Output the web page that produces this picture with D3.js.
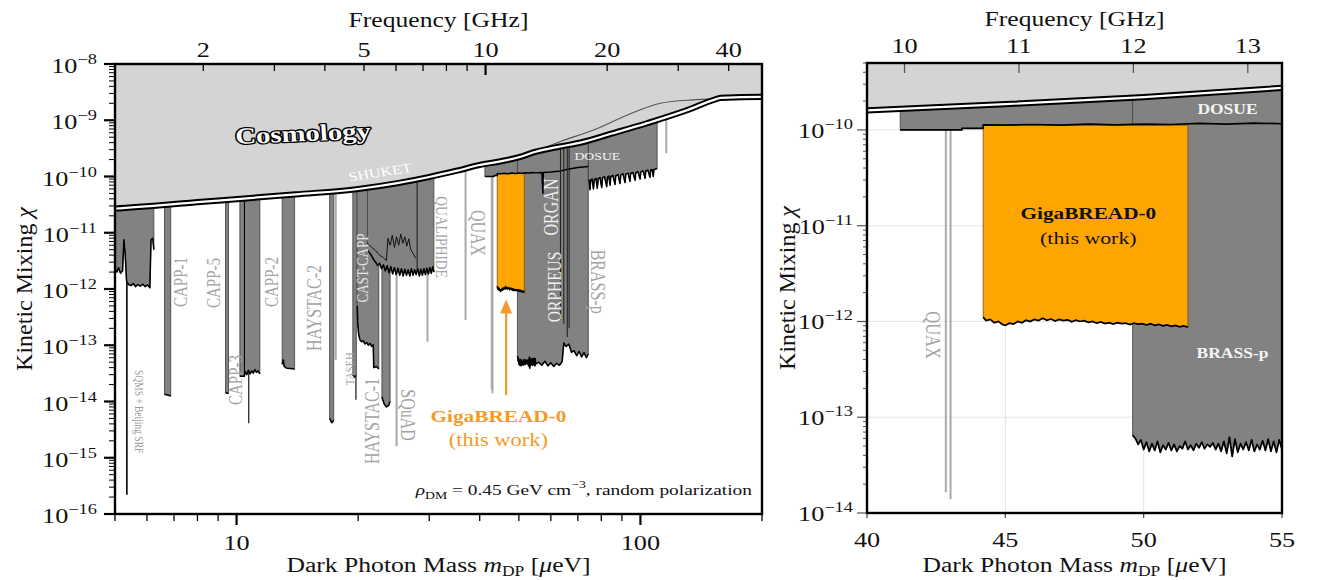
<!DOCTYPE html>
<html>
<head>
<meta charset="utf-8">
<script src="https://cdnjs.cloudflare.com/ajax/libs/d3/7.8.5/d3.min.js"></script>
<style>
  body { margin: 0; background: #fff; }
  svg { display: block; }
  text { font-family: "Liberation Serif", "Times New Roman", serif; }
</style>
</head>
<body>
<svg id="chart" width="1339" height="580"></svg>
<script>
// ---------------- data: dark photon kinetic-mixing limits ----------------
// masses in micro-eV, chi = kinetic mixing

// cosmological bound (lower edge of the excluded band)
const cosmoMass = [3, 5, 8, 14, 20, 25, 30, 35, 40, 45, 50, 55, 63, 71, 85, 104, 130, 152, 158, 200, 250];
const cosmoChi  = [2.4e-11, 2.7e-11, 3.5e-11, 4.8e-11, 6.0e-11, 7.6e-11, 9.8e-11, 1.26e-10, 1.6e-10, 1.86e-10,
                   2.2e-10, 2.75e-10, 3.4e-10, 4.0e-10, 5.8e-10, 8.9e-10, 1.5e-9, 2.3e-9, 2.5e-9, 2.6e-9, 2.6e-9];
// second cosmological curve inside the shaded band
const cosmoUpperMass = [53.5, 63.4, 76.5, 92.9, 112, 135, 151.5];
const cosmoUpperChi  = [2.6e-10, 4.2e-10, 6.7e-10, 1.24e-9, 2.0e-9, 2.3e-9, 2.4e-9];

// haloscope / dish exclusions: lower boundaries
const r1Mass = [4.95, 5.06, 5.10, 5.16, 5.22, 5.26, 5.30, 5.34, 5.40, 5.48, 5.55, 5.62, 5.70, 5.78, 5.86, 5.94, 6.02, 6.10, 6.14, 6.20, 6.24];
const r1Chi  = [2.6e-12, 2.0e-12, 2.4e-12, 1.9e-12, 2.1e-12, 7.5e-12, 4.0e-12, 1.4e-12, 1.2e-12, 1.15e-12, 1.25e-12,
                1.1e-12, 1.2e-12, 1.12e-12, 1.22e-12, 1.1e-12, 1.18e-12, 1.05e-12, 7.5e-12, 8.0e-12, 5.0e-12];
const capp1Mass = [6.63, 6.75, 6.87];
const capp1Chi  = [1.35e-14, 1.3e-14, 1.25e-14];
const capp5Mass = [9.39, 9.47, 9.55];
const capp5Chi  = [1.45e-14, 1.4e-14, 1.4e-14];
const capp3Mass = [10.19, 10.45, 10.50, 10.60, 10.70, 10.80, 10.90, 11.00, 11.10, 11.20, 11.30, 11.42];
const capp3Chi  = [2.8e-14, 2.8e-14, 3.4e-14, 3.0e-14, 3.6e-14, 3.1e-14, 3.5e-14, 3.2e-14, 3.7e-14, 3.3e-14, 3.5e-14, 3.1e-14];
const capp2Mass = [12.97, 13.05, 13.12, 13.3, 13.6, 13.92];
const capp2Chi  = [4.6e-14, 5.5e-14, 4.2e-14, 3.9e-14, 3.85e-14, 3.8e-14];
const haystac2Mass = [17.0, 17.2, 17.4];
const haystac2Chi  = [5.0e-15, 4.2e-15, 4.6e-15];
const tasehMass = [19.4, 19.6, 19.8];
const tasehChi  = [3.0e-14, 2.7e-14, 2.9e-14];
const castMass = [19.9, 19.95, 20.05, 20.2, 20.4, 20.6, 20.8, 21.0, 21.2, 21.4, 21.6, 21.8, 21.86, 22.2, 22.5];
const castChi  = [5.0e-13, 2.5e-13, 1.6e-13, 1.25e-13, 1.15e-13, 1.2e-13, 1.05e-13, 1.12e-13, 1.0e-13, 1.08e-13,
                  0.95e-13, 1.02e-13, 4.0e-14, 4.2e-14, 3.8e-14];
const haystac1Mass = [22.9, 23.2, 23.5, 23.8, 24.0];
const haystac1Chi  = [1.2e-14, 9.0e-15, 8.0e-15, 8.5e-15, 1.0e-14];
const bandMass = [21.10, 21.35, 21.60, 21.85, 22.10, 22.35, 22.60, 22.85, 23.10, 23.35, 23.60, 23.85, 24.10, 24.35,
                  24.60, 24.85, 25.10, 25.35, 25.60, 25.85, 26.10, 26.35, 26.60, 26.85, 27.10, 27.35, 27.60, 27.85,
                  28.10, 28.35, 28.60, 28.85, 29.10, 29.35, 29.60, 29.85, 30.10, 30.35, 30.60, 30.80];
const bandChi  = [5.0e-12, 4.4e-12, 3.9e-12, 3.3e-12, 3.0e-12, 2.6e-12, 2.9e-12, 2.3e-12, 2.7e-12, 2.1e-12, 2.6e-12,
                  1.95e-12, 2.5e-12, 1.85e-12, 2.4e-12, 1.8e-12, 2.35e-12, 1.75e-12, 2.3e-12, 1.7e-12, 2.25e-12,
                  1.75e-12, 2.2e-12, 1.7e-12, 2.3e-12, 1.75e-12, 2.2e-12, 1.8e-12, 2.3e-12, 1.7e-12, 2.25e-12,
                  1.75e-12, 2.3e-12, 1.8e-12, 2.35e-12, 1.85e-12, 2.4e-12, 1.9e-12, 2.5e-12, 2.0e-12];
const bandInnerMass = [21.1, 21.6, 22.1, 22.6, 23.1, 23.5, 23.7, 24.0, 24.3, 24.6, 24.9, 25.2, 25.5, 25.8, 26.1, 26.4, 26.7, 27.0, 27.4, 27.8];
const bandInnerChi  = [6.5e-12, 5.5e-12, 4.8e-12, 4.0e-12, 3.6e-12, 3.2e-12, 8.0e-12, 6.0e-12, 9.0e-12, 5.5e-12,
                       8.5e-12, 6.0e-12, 9.5e-12, 6.5e-12, 8.5e-12, 5.8e-12, 7.8e-12, 5.0e-12, 4.2e-12, 3.5e-12];
const dosueMass = [41.2, 43.43, 43.43, 44.2, 44.2, 45, 46, 47, 48, 49, 50, 51, 52, 53, 54, 55, 56, 57.0, 57.35, 57.5, 60, 63.4, 66, 70, 74.3];
const dosueChi  = [1.0e-10, 1.0e-10, 1.04e-10, 1.04e-10, 1.13e-10, 1.12e-10, 1.14e-10, 1.12e-10, 1.15e-10, 1.13e-10,
                   1.15e-10, 1.14e-10, 1.17e-10, 1.15e-10, 1.18e-10, 1.16e-10, 1.17e-10, 1.18e-10, 5.0e-11, 1.18e-10,
                   1.2e-10, 1.25e-10, 1.35e-10, 1.45e-10, 1.5e-10];
const brassMass = [49.6, 49.7, 49.8, 49.9, 50.0, 50.1, 50.2, 50.3, 50.4, 50.5, 50.6, 50.7, 50.8, 50.9, 51.0, 51.1, 51.2,
                   51.3, 51.4, 51.5, 51.6, 51.7, 51.8, 51.9, 52.0, 52.1, 52.2, 52.3, 52.4, 52.5, 52.6, 52.7, 52.8, 52.9,
                   53.0, 53.1, 53.2, 53.3, 53.4, 53.5, 53.6, 53.7, 53.8, 53.9, 54.0, 54.1, 54.2, 54.3, 54.4, 54.5, 54.6,
                   54.7, 54.8, 54.9, 55.0, 56, 57, 58, 59, 60, 61, 62, 63, 64, 64.6, 65.5, 66.5, 67.5, 68.5, 69.5, 70.5,
                   71.5, 72.5, 73.5, 74.3];
const brassChi  = [6.5e-14, 6.0e-14, 5.2e-14, 5.8e-14, 4.6e-14, 5.5e-14, 4.4e-14, 5.3e-14, 4.5e-14, 5.6e-14, 4.3e-14,
                   5.1e-14, 4.6e-14, 5.4e-14, 4.5e-14, 5.2e-14, 4.4e-14, 5.0e-14, 4.7e-14, 5.6e-14, 4.6e-14, 5.1e-14,
                   4.5e-14, 5.3e-14, 4.8e-14, 5.5e-14, 4.7e-14, 5.2e-14, 4.9e-14, 5.4e-14, 4.6e-14, 5.3e-14, 4.4e-14,
                   5.6e-14, 4.2e-14, 6.2e-14, 3.9e-14, 5.9e-14, 4.3e-14, 5.3e-14, 4.6e-14, 5.5e-14, 4.5e-14, 5.8e-14,
                   4.4e-14, 5.2e-14, 4.6e-14, 5.7e-14, 4.5e-14, 5.9e-14, 4.4e-14, 5.6e-14, 4.3e-14, 5.8e-14, 4.6e-14,
                   5.0e-14, 4.4e-14, 5.2e-14, 4.3e-14, 4.9e-14, 4.2e-14, 4.8e-14, 4.4e-14, 5.1e-14, 1.1e-13, 9.5e-14,
                   1.05e-13, 7.5e-14, 8.0e-14, 6.5e-14, 7.8e-14, 6.2e-14, 7.4e-14, 6.0e-14, 7.0e-14];
const dosueRRMass = [74.3, 74.7, 75.0, 75.3, 75.9, 76.5, 76.9, 77.6, 78.2, 78.6, 79.4, 80.2, 80.6, 81.5, 82.5, 82.9,
                     83.5, 84.1, 84.5, 85.5, 86.5, 86.9, 88.0, 89.0, 89.4, 90.5, 91.6, 92.0, 93.2, 94.2, 94.6, 95.8,
                     97.0, 97.4, 98.6, 99.8, 100.2, 101.5, 102.7, 103.1, 104.3, 105.6, 106.0, 106.9, 107.6, 108.0, 109, 110];
const dosueRRChi  = [0.88e-10, 0.84e-10, 0.58e-10, 0.86e-10, 0.90e-10, 0.60e-10, 0.88e-10, 0.93e-10, 0.62e-10, 0.91e-10,
                     0.96e-10, 0.64e-10, 0.95e-10, 0.99e-10, 0.66e-10, 0.98e-10, 1.02e-10, 0.70e-10, 1.00e-10, 1.05e-10,
                     0.72e-10, 1.03e-10, 1.08e-10, 0.75e-10, 1.06e-10, 1.12e-10, 0.78e-10, 1.10e-10, 1.15e-10, 0.82e-10,
                     1.14e-10, 1.18e-10, 0.86e-10, 1.17e-10, 1.22e-10, 0.90e-10, 1.21e-10, 1.26e-10, 0.93e-10, 1.25e-10,
                     1.30e-10, 0.97e-10, 1.29e-10, 1.33e-10, 1.00e-10, 1.32e-10, 1.36e-10, 1.38e-10];

// GigaBREAD-0 result
const gigaTop = 1.12e-10;
const gigaMass = [44.20, 44.30, 44.45, 44.60, 44.75, 44.90, 45.00, 45.15, 45.30, 45.45, 45.60, 45.75, 45.90, 46.05, 46.20,
                  46.35, 46.50, 46.65, 46.80, 46.95, 47.10, 47.25, 47.40, 47.55, 47.70, 47.85, 48.00, 48.15, 48.30, 48.45,
                  48.60, 48.75, 48.90, 49.05, 49.20, 49.35, 49.50, 49.65, 49.80, 49.95, 50.10, 50.25, 50.40, 50.55, 50.70,
                  50.85, 51.00, 51.15, 51.30, 51.45, 51.60];
const gigaChi  = [1.11e-12, 1.02e-12, 1.05e-12, 0.97e-12, 1.00e-12, 0.93e-12, 0.91e-12, 0.96e-12, 0.94e-12, 1.00e-12,
                  0.97e-12, 1.03e-12, 1.00e-12, 1.05e-12, 1.02e-12, 1.08e-12, 1.03e-12, 1.06e-12, 1.01e-12, 1.05e-12,
                  1.02e-12, 1.04e-12, 0.99e-12, 1.03e-12, 1.00e-12, 1.02e-12, 0.98e-12, 1.00e-12, 0.96e-12, 0.99e-12,
                  0.95e-12, 0.97e-12, 0.94e-12, 0.97e-12, 0.95e-12, 0.96e-12, 0.93e-12, 0.96e-12, 0.94e-12, 0.95e-12,
                  0.92e-12, 0.95e-12, 0.91e-12, 0.93e-12, 0.90e-12, 0.92e-12, 0.89e-12, 0.91e-12, 0.88e-12, 0.90e-12, 0.87e-12];

// narrow single-line exclusions (light) and thin dark features
const lightMass   = [17.6, 24.9, 29.7, 36.9, 42.85, 43.02, 115.9];
const lightBottom = [5.5e-14, 1.6e-15, 1.15e-13, 2.8e-13, 1.65e-14, 1.4e-14, 2.6e-10];
const innerMass   = [5.35, 10.46, 10.72, 19.75, 28.0, 63.4, 64.6, 65.9, 66.6];
const innerTop    = [1.3e-12, 1e-8, 3.3e-14, 2.8e-14, 1e-8, 1e-8, 1e-8, 1e-8, 1e-8];
const innerBottom = [2.2e-16, 2.8e-14, 4.1e-15, 1.07e-14, 2.2e-12, 2.8e-13, 2.4e-13, 1.4e-13, 2.0e-13];

// arrow pointing at the new result
const arrowMass = 46.5, arrowFrom = 1.3e-14, arrowTo = 6.5e-13;

// axis ticks
const massMajorL = [10, 100];
const massMinorL = [5, 6, 7, 8, 9, 20, 30, 40, 50, 60, 70, 80, 90, 200];
const freqTicksL = [2, 3, 4, 5, 6, 7, 8, 9, 10, 20, 30, 40];
const freqLabelsL = [2, 5, 10, 20, 40];
const massTicksR = [40, 45, 50, 55];
const freqTicksR = [10, 11, 12, 13];

// ---------------- drawing ----------------
const GHZ = 4.13567;            // micro-eV per GHz
const STRETCH = 1.25;           // horizontal glyph stretch of the typeset labels
const GREY = "#828282", LIGHT = "#a9a9a9", COSMO = "#d4d4d4", ORANGE = "#ffa500", ORANGE_TXT = "#f39a2c";

const svg = d3.select("#chart");
svg.append("rect").attr("width", 1339).attr("height", 580).attr("fill", "#fff");

const xL = d3.scaleLog().domain([5, 200]).range([115, 762]);
const yL = d3.scaleLog().domain([1e-16, 1e-8]).range([514, 64]);
const xR = d3.scaleLinear().domain([40, 55]).range([867, 1282]);
const yR = d3.scaleLog().domain([1e-14, 5e-10]).range([513, 63]);

const defs = svg.append("defs");
defs.append("clipPath").attr("id", "clipL").append("rect")
  .attr("x", 115).attr("y", 64).attr("width", 647).attr("height", 450);
defs.append("clipPath").attr("id", "clipR").append("rect")
  .attr("x", 867).attr("y", 63).attr("width", 415).attr("height", 450);

const zip = (ms, cs) => ms.map((m, i) => ({ m, c: cs[i] }));

const regions = [
  zip(r1Mass, r1Chi), zip(capp1Mass, capp1Chi), zip(capp5Mass, capp5Chi), zip(capp3Mass, capp3Chi),
  zip(capp2Mass, capp2Chi), zip(haystac2Mass, haystac2Chi), zip(tasehMass, tasehChi), zip(castMass, castChi),
  zip(haystac1Mass, haystac1Chi), zip(bandMass, bandChi), zip(dosueMass, dosueChi), zip(brassMass, brassChi),
  zip(dosueRRMass, dosueRRChi)
];

// text helper: positioned group, stretched horizontally, optional rotation
function label(parent, px, py, opts) {
  const sx = opts.noStretch ? 1 : STRETCH;
  const g = parent.append("g")
    .attr("transform", `translate(${px},${py}) scale(${sx},1) rotate(${opts.rot || 0})`);
  const t = g.append("text")
    .attr("text-anchor", opts.anchor || "middle")
    .attr("dy", opts.dy || 0)
    .style("font-size", opts.size + "px")
    .style("font-weight", opts.weight || "normal")
    .attr("fill", opts.fill || "#111");
  if (opts.stroke) {
    t.attr("stroke", opts.stroke).attr("stroke-width", opts.strokeWidth)
     .attr("paint-order", "stroke").attr("stroke-linejoin", "round");
  }
  if (opts.text !== undefined) t.text(opts.text);
  return t;
}

function drawPanel(x, y, clipId, isLeft) {
  const g = svg.append("g");
  const plot = g.append("g").attr("clip-path", `url(#${clipId})`);
  const [yBot, yTop] = y.range();
  const [xLeft, xRight] = x.range();

  if (!isLeft) {
    // light grid at major ticks
    const grid = plot.append("g").attr("stroke", "#e4e4e4").attr("stroke-width", 1);
    [1e-13, 1e-12, 1e-11, 1e-10].forEach(v =>
      grid.append("line").attr("x1", xLeft).attr("x2", xRight).attr("y1", y(v)).attr("y2", y(v)));
    [45, 50].forEach(v =>
      grid.append("line").attr("x1", x(v)).attr("x2", x(v)).attr("y1", yTop).attr("y2", yBot));
  }

  // single-line exclusions
  lightMass.forEach((m, i) => {
    plot.append("line").attr("x1", x(m)).attr("x2", x(m))
      .attr("y1", y(1e-8)).attr("y2", y(lightBottom[i]))
      .attr("stroke", LIGHT).attr("stroke-width", 2);
  });

  const regionLine = d3.line().x(d => x(d.m)).y(d => y(d.c));
  const regionPoly = pts => {
    const top = [{ m: pts[0].m, c: 1e-8 }];
    const end = [{ m: pts[pts.length - 1].m, c: 1e-8 }];
    return regionLine(top.concat(pts, end)) + "Z";
  };

  // grey exclusion fills
  regions.forEach(pts => {
    plot.append("path").attr("d", regionPoly(pts))
      .attr("fill", GREY).attr("stroke", "#3c3c3c").attr("stroke-width", 0.8);
  });

  // GigaBREAD-0 region
  const gigaPts = zip(gigaMass, gigaChi);
  const gigaPoly = regionLine([{ m: gigaMass[0], c: gigaTop }].concat(gigaPts,
    [{ m: gigaMass[gigaMass.length - 1], c: gigaTop }])) + "Z";
  plot.append("path").attr("d", gigaPoly).attr("fill", ORANGE).attr("stroke", "#7a5200").attr("stroke-width", 0.8);
  plot.append("path").attr("d", regionLine(gigaPts)).attr("fill", "none")
    .attr("stroke", "#000").attr("stroke-width", isLeft ? 1.5 : 1.7);

  // black lower boundaries of the grey regions
  regions.forEach(pts => {
    plot.append("path").attr("d", regionLine(pts)).attr("fill", "none")
      .attr("stroke", "#000").attr("stroke-width", isLeft ? 1.5 : 1.7).attr("stroke-linejoin", "round");
  });
  if (isLeft) {
    plot.append("path").attr("d", regionLine(zip(bandInnerMass, bandInnerChi))).attr("fill", "none")
      .attr("stroke", "#111").attr("stroke-width", 1);
  }
  innerMass.forEach((m, i) => {
    plot.append("line").attr("x1", x(m)).attr("x2", x(m))
      .attr("y1", y(innerTop[i])).attr("y2", y(innerBottom[i]))
      .attr("stroke", i >= 4 ? "#222" : "#000").attr("stroke-width", i === 0 ? 1.6 : 1.1);
  });

  // cosmology band
  const cosmoPts = zip(cosmoMass, cosmoChi);
  const curve = isLeft ? d3.curveMonotoneX : d3.curveLinear;
  plot.append("path")
    .attr("d", d3.area().x(d => x(d.m)).y0(yTop - 20).y1(d => y(d.c)).curve(curve)(cosmoPts))
    .attr("fill", COSMO);
  if (isLeft) {
    plot.append("path")
      .attr("d", d3.line().x(d => x(d.m)).y(d => y(d.c)).curve(d3.curveMonotoneX)(zip(cosmoUpperMass, cosmoUpperChi)))
      .attr("fill", "none").attr("stroke", "#555").attr("stroke-width", 1.1);
  }
  const cosmoLine = d3.line().x(d => x(d.m)).y(d => y(d.c)).curve(curve)(cosmoPts);
  plot.append("path").attr("d", cosmoLine).attr("fill", "none").attr("stroke", "#000").attr("stroke-width", 6.2);
  plot.append("path").attr("d", cosmoLine).attr("fill", "none").attr("stroke", "#fff").attr("stroke-width", 2.2);

  return { g, plot };
}

// ---------- left panel ----------
const L = drawPanel(xL, yL, "clipL", true);

const leftLabels = [
  { t: "SQMS + Beijing SRF", m: 5.73, c: 6.6e-15, rot: 90, size: 9.5, fill: "#9a9a9a" },
  { t: "CAPP-1", m: 7.28, c: 1.33e-12, rot: -90, size: 15, fill: "#a3a3a3" },
  { t: "CAPP-5", m: 8.74, c: 1.28e-12, rot: -90, size: 15, fill: "#a3a3a3" },
  { t: "CAPP-3", m: 9.91, c: 2.41e-14, rot: -90, size: 15, fill: "#a3a3a3" },
  { t: "CAPP-2", m: 12.17, c: 1.33e-12, rot: -90, size: 15, fill: "#a3a3a3" },
  { t: "HAYSTAC-2", m: 15.55, c: 4.6e-13, rot: -90, size: 16, fill: "#a3a3a3" },
  { t: "TASEH", m: 18.98, c: 3.8e-14, rot: -90, size: 10.5, fill: "#a3a3a3" },
  { t: "CAST-CAPP", m: 20.45, c: 2.36e-12, rot: -90, size: 13, fill: "#e6e6e6" },
  { t: "HAYSTAC-1", m: 21.64, c: 4.5e-15, rot: -90, size: 16, fill: "#a3a3a3" },
  { t: "SQuAD", m: 26.58, c: 5.75e-15, rot: 90, size: 16, fill: "#a3a3a3" },
  { t: "QUALIPHIDE", m: 32.17, c: 8.4e-12, rot: 90, size: 13.5, fill: "#a3a3a3" },
  { t: "QUAX", m: 39.6, c: 9.9e-12, rot: 90, size: 16, fill: "#a3a3a3" },
  { t: "ORGAN", m: 60.2, c: 2.87e-11, rot: -90, size: 16, fill: "#eeeeee" },
  { t: "ORPHEUS", m: 61.1, c: 1.09e-12, rot: -90, size: 15.5, fill: "#eeeeee" },
  { t: "BRASS-p", m: 78.5, c: 1.35e-12, rot: 90, size: 16, fill: "#a3a3a3" },
  { t: "DOSUE", m: 78.2, c: 2.31e-10, rot: 0, size: 11, fill: "#f2f2f2" },
  { t: "SHUKET", m: 22.66, c: 1.2e-10, rot: -11, size: 13, fill: "#ffffff" }
];
leftLabels.forEach(d => label(L.plot, xL(d.m), yL(d.c),
  { text: d.t, rot: d.rot, size: d.size, fill: d.fill, dy: "0.35em" }));

label(L.plot, xL(14.6), yL(5.9e-10), { text: "Cosmology", rot: -3, size: 23, weight: "bold",
  fill: "#fff", stroke: "#000", strokeWidth: 2.6, dy: "0.35em" });

// arrow and caption for the new result
L.plot.append("line").attr("x1", xL(arrowMass)).attr("x2", xL(arrowMass))
  .attr("y1", yL(arrowFrom)).attr("y2", yL(arrowTo) + 12)
  .attr("stroke", ORANGE_TXT).attr("stroke-width", 2.2);
L.plot.append("path")
  .attr("d", `M${xL(arrowMass)},${yL(arrowTo)} l-6,14 l12,0 Z`)
  .attr("fill", ORANGE_TXT);
label(L.plot, xL(44.5), yL(5.5e-15), { text: "GigaBREAD-0", size: 17, weight: "bold", fill: ORANGE_TXT, dy: "0.35em" });
label(L.plot, xL(44.5), yL(5.5e-15) + 24, { text: "(this work)", size: 18, fill: ORANGE_TXT, dy: "0.35em" });

const note = label(L.plot, xL(188.8), yL(2.18e-16), { anchor: "end", size: 15.5, fill: "#111" });
note.append("tspan").style("font-style", "italic").text("ρ");
note.append("tspan").attr("dy", 4).style("font-size", "11px").text("DM");
note.append("tspan").attr("dy", -4).text(" = 0.45 GeV cm");
note.append("tspan").attr("dy", -7).style("font-size", "11px").text("−3");
note.append("tspan").attr("dy", 7).text(", random polarization");

// ---------- right panel ----------
const R = drawPanel(xR, yR, "clipR", false);
label(R.plot, xR(53.03), yR(1.65e-10), { text: "DOSUE", size: 14, weight: "bold", fill: "#f4f4f4", dy: "0.35em" });
label(R.plot, xR(53.21), yR(4.7e-13), { text: "BRASS-p", size: 14, weight: "bold", fill: "#f4f4f4", dy: "0.35em" });
label(R.plot, xR(42.39), yR(7.2e-13), { text: "QUAX", rot: 90, size: 16.5, fill: "#a3a3a3", dy: "0.35em" });
label(R.plot, xR(48.0), yR(1.36e-11), { text: "GigaBREAD-0", size: 17, weight: "bold", fill: "#111", dy: "0.35em" });
label(R.plot, xR(48.0), yR(1.36e-11) + 25, { text: "(this work)", size: 17.5, fill: "#111", dy: "0.35em" });

// ---------------- axes ----------------
function tick(g, x1, y1, x2, y2, w, col) {
  g.append("line").attr("x1", x1).attr("y1", y1).attr("x2", x2).attr("y2", y2)
    .attr("stroke", col || "#000").attr("stroke-width", w);
}
function powLabel(g, px, py, v, size) {
  const e = Math.round(Math.log10(v));
  const t = label(g, px, py, { anchor: "end", size: size, fill: "#111" });
  t.append("tspan").text("10");
  t.append("tspan").attr("dy", -9).style("font-size", (size * 0.7) + "px").text("−" + Math.abs(e));
}
function massTitle(g, px) {
  const xt = label(g, px, 572, { size: 20.5 });
  xt.append("tspan").text("Dark Photon Mass ");
  xt.append("tspan").style("font-style", "italic").text("m");
  xt.append("tspan").attr("dy", 4).style("font-size", "14px").text("DP");
  xt.append("tspan").attr("dy", -4).text(" [");
  xt.append("tspan").style("font-style", "italic").text("μ");
  xt.append("tspan").text("eV]");
}
function mixingTitle(g, px, py) {
  const t = label(g, px, py, { size: 24, rot: -90, noStretch: true });
  t.append("tspan").text("Kinetic Mixing ");
  t.append("tspan").style("font-style", "italic").text("χ");
}

// left axes
{
  const g = L.g;
  const [x0, x1] = xL.range(), [yb, yt] = yL.range();
  massMajorL.forEach(m => { tick(g, xL(m), yb, xL(m), yb + 11, 2.2);
    label(g, xL(m), 550, { text: String(m), size: 21 }); });
  massMinorL.forEach(m => tick(g, xL(m), yb, xL(m), yb + 7, 1.3));
  freqTicksL.forEach(f => tick(g, xL(f * GHZ), yt, xL(f * GHZ), yt + (f === 10 ? 11 : 7), f === 10 ? 2.2 : 1.3));
  freqLabelsL.forEach(f => label(g, xL(f * GHZ), 57, { text: String(f), size: 21 }));
  for (let e = -16; e <= -8; e++) {
    const v = Math.pow(10, e);
    tick(g, x0, yL(v), x0 - 11, yL(v), 2.2);
    powLabel(g, 97, yL(v) + 9, v, 21);
    if (e < -8) for (let k = 2; k <= 9; k++) tick(g, x0, yL(k * v), x0 - 6, yL(k * v), 1);
  }
  g.append("rect").attr("x", x0).attr("y", yt).attr("width", x1 - x0).attr("height", yb - yt)
    .attr("fill", "none").attr("stroke", "#000").attr("stroke-width", 2.4);

  label(g, (x0 + x1) / 2, 27, { text: "Frequency [GHz]", size: 20.5 });
  massTitle(g, (x0 + x1) / 2);
  mixingTitle(g, 32, (yb + yt) / 2);
}

// right axes
{
  const g = R.g;
  const [x0, x1] = xR.range(), [yb, yt] = yR.range();
  massTicksR.forEach(m => { tick(g, xR(m), yb, xR(m), yb + 5, 1.2, "#444");
    label(g, xR(m), 547, { text: String(m), size: 21 }); });
  freqTicksR.forEach(f => { tick(g, xR(f * GHZ), yt, xR(f * GHZ), yt + 10, 1.3, "#555");
    label(g, xR(f * GHZ), 53, { text: String(f), size: 21 }); });
  for (let e = -14; e <= -10; e++) {
    const v = Math.pow(10, e);
    tick(g, x0, yR(v), x0 - 10, yR(v), 1.2, "#555");
    powLabel(g, 853, yR(v) + 8, v, 21);
    for (let k = 2; k <= 9; k++) if (k * v <= 5e-10) tick(g, x0, yR(k * v), x0 - 4, yR(k * v), 1, "#555");
  }
  g.append("rect").attr("x", x0).attr("y", yt).attr("width", x1 - x0).attr("height", yb - yt)
    .attr("fill", "none").attr("stroke", "#000").attr("stroke-width", 2.4);

  label(g, (x0 + x1) / 2, 26, { text: "Frequency [GHz]", size: 20.5 });
  massTitle(g, (x0 + x1) / 2);
  mixingTitle(g, 795, (yb + yt) / 2);
}
</script>
</body>
</html>
